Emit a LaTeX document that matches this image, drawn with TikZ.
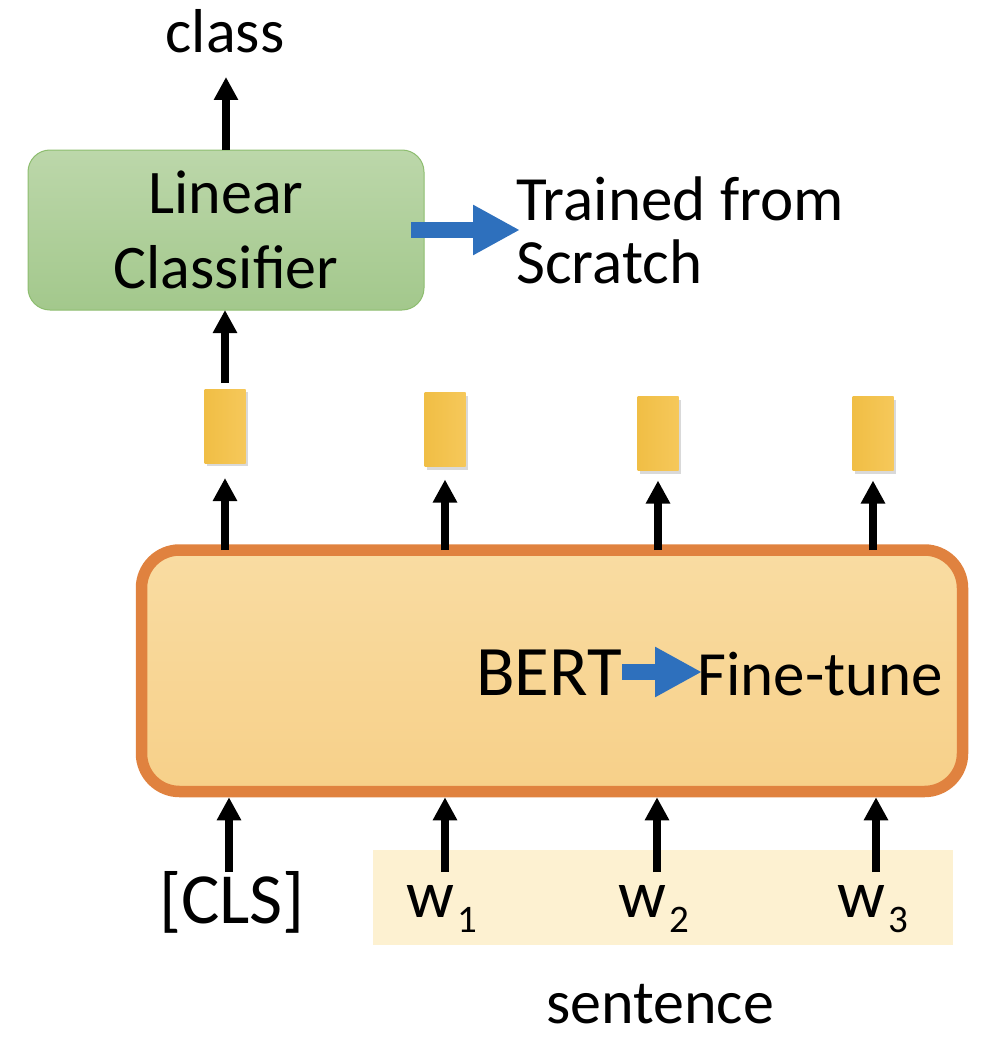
\documentclass[tikz,border=0pt]{standalone}
\usepackage{fontspec}
\setmainfont{Carlito}
\usetikzlibrary{arrows.meta,shadows}
\definecolor{bluec}{HTML}{2E70BD}
\definecolor{bertfillT}{HTML}{F9DCA2}
\definecolor{bertfillB}{HTML}{F7D089}
\definecolor{bertline}{HTML}{E0823F}
\definecolor{greenT}{HTML}{BCD7AA}
\definecolor{greenB}{HTML}{A3C88C}
\definecolor{greenline}{HTML}{8DBD6F}
\definecolor{sentbg}{HTML}{FDF1D1}
\definecolor{cylL}{HTML}{F0BE45}
\definecolor{cylM}{HTML}{F8CA49}
\definecolor{cylR}{HTML}{F6C85A}
\begin{document}
\begin{tikzpicture}[x=1pt,y=-1pt,
  txt/.style={font=\fontsize{62}{73}\selectfont, inner sep=0pt},
  blk/.style={line width=8pt, -{Triangle[width=23pt,length=23pt]}},
  blu/.style={draw=bluec, line width=16pt, -{Triangle[width=47pt,length=47pt]}},
  bertbox/.style={draw=bertline, line width=11.5pt, rounded corners=38pt,
    top color=bertfillT, bottom color=bertfillB, outer sep=0pt, inner sep=0pt},
  lcbox/.style={draw=greenline, line width=1pt, rounded corners=22pt,
    top color=greenT, bottom color=greenB, outer sep=0pt, inner sep=0pt},
  hid/.style={inner sep=0pt, outer sep=0pt, minimum width=41pt, minimum height=74pt,
    left color=cylL, middle color=cylM, right color=cylR,
    drop shadow={shadow xshift=2pt, shadow yshift=-3pt, fill=black, opacity=0.15}},
  wtok/.style={font=\fontsize{67}{67}\selectfont, inner sep=0pt, anchor=base}
]
\useasboundingbox (0,0) rectangle (1004,1054);

% sentence background
\node[fill=sentbg, inner sep=0pt, outer sep=0pt, minimum width=580pt, minimum height=95pt] (sbg) at (663,897.5) {};

% BERT box
\node[bertbox, minimum width=821pt, minimum height=241.5pt] (bert) at (552,670.75) {};

% Linear classifier box
\node[lcbox, minimum width=396pt, minimum height=160pt] (lc) at (226,230) {};

% hidden vectors
\node[hid] (h1) at (225,426) {};
\node[hid] (h2) at (445,429.5) {};
\node[hid] (h3) at (658,433.5) {};
\node[hid] (h4) at (873,433.5) {};

% texts
\node[txt, anchor=base] (cls) at (225,53) {class};
\node[txt, anchor=base] (lc1) at (226,213) {Linear};
\node[txt, anchor=base] (lc2) at (226,288) {Classifier};
\node[txt, anchor=base west, font=\fontsize{63}{63}\selectfont] (tr1) at (516,220) {Trained from};
\node[txt, anchor=base west, font=\fontsize{63}{63}\selectfont] (tr2) at (516,283) {Scratch};
\node[inner sep=0pt, anchor=base west, font=\fontsize{71}{71}\selectfont] (bt) at (476,695) {BERT};
\node[txt, anchor=base west, font=\fontsize{63}{63}\selectfont] (ft) at (697,695) {Fine-tune};
\node[inner sep=0pt, anchor=base, font=\fontsize{72}{72}\selectfont] (tcls) at (232,923) {[CLS]};
\node[wtok] (w1) at (442,917) {w\kern3pt\raisebox{-15pt}{\fontsize{39}{39}\selectfont 1}};
\node[wtok] (w2) at (654,917) {w\kern3pt\raisebox{-15pt}{\fontsize{39}{39}\selectfont 2}};
\node[wtok] (w3) at (873,917) {w\kern3pt\raisebox{-15pt}{\fontsize{39}{39}\selectfont 3}};
\node[txt, anchor=base] (sent) at (660,1023) {sentence};

% coordinates
\coordinate (clsT) at (226,77);
\coordinate (trT) at (520,230);
\coordinate (lcS) at (411,230);
\coordinate (btS) at (622,672);
\coordinate (btT) at (702,672);
\coordinate (b0) at (229,872);
\coordinate (b1) at (445,872);
\coordinate (b2) at (657,872);
\coordinate (b3) at (876,872);

% black arrows
\draw[blk] (lc.north -| clsT) -- (clsT);
\draw[blk, shorten <=6pt] (h1.north) -- (h1.north |- lc.south);
\draw[blk, shorten >=15pt] (h1.south |- bert.north) -- (h1.south);
\draw[blk, shorten >=13pt] (h2.south |- bert.north) -- (h2.south);
\draw[blk, shorten >=10pt] (h3.south |- bert.north) -- (h3.south);
\draw[blk, shorten >=10pt] (h4.south |- bert.north) -- (h4.south);
\draw[blk, shorten >=5.75pt] (b0) -- (b0 |- bert.south);
\draw[blk, shorten >=5.75pt] (b1) -- (b1 |- bert.south);
\draw[blk, shorten >=5.75pt] (b2) -- (b2 |- bert.south);
\draw[blk, shorten >=5.75pt] (b3) -- (b3 |- bert.south);

% blue arrows
\draw[blu] (lcS) -- (trT);
\draw[blu] (btS) -- (btT);
\end{tikzpicture}
\end{document}
